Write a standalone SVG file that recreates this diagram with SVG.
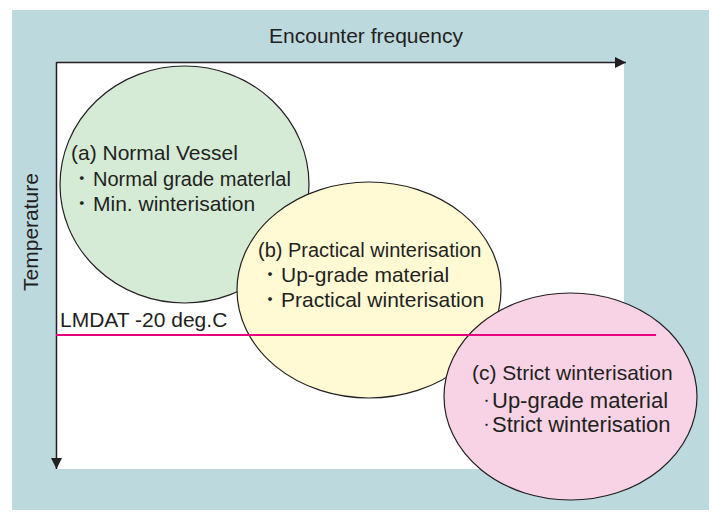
<svg xmlns="http://www.w3.org/2000/svg" width="712" height="513" viewBox="0 0 712 513">
<defs>
<style>
text{font-family:"Liberation Sans",Arial,sans-serif;font-size:21px;fill:#231f20}
text.s20{font-size:20px}
.b{font-family:"Noto Sans CJK JP","Liberation Sans",sans-serif;text-anchor:middle;font-size:18px}
.bs{font-family:"Noto Sans CJK JP","Liberation Sans",sans-serif;text-anchor:end;font-size:11px}
.axis{stroke:#231f20;stroke-width:1.5;fill:none}
.node ellipse{stroke:#231f20;stroke-width:1.2}
</style>
<marker id="ah" viewBox="0 0 10 10" refX="10" refY="5" markerWidth="11" markerHeight="11" markerUnits="userSpaceOnUse" orient="auto">
<path d="M0,0 L10,5 L0,10 Z" fill="#231f20"/>
</marker>
</defs>
<rect x="0" y="0" width="712" height="513" fill="#ffffff"/>
<rect x="12" y="10" width="697" height="500" fill="#bcd9dd"/>
<rect x="57" y="62" width="567" height="407" fill="#ffffff"/>
<text x="366" y="43" text-anchor="middle">Encounter frequency</text>
<text transform="translate(37.5,232) rotate(-90)" text-anchor="middle">Temperature</text>
<g id="node-a" class="node">
<ellipse cx="184.5" cy="184.5" rx="124.5" ry="118.5" fill="#d5ebd6"/>
<text x="71" y="160">(a) Normal Vessel</text>
<text><tspan class="b" x="81.7" y="185">・</tspan><tspan x="93" y="186" font-size="20">Normal grade materlal</tspan></text>
<text><tspan class="b" x="81.7" y="210">・</tspan><tspan x="93" y="211">Min. winterisation</tspan></text>
</g>
<g id="node-b" class="node">
<ellipse cx="369" cy="290" rx="132" ry="108" fill="#fff9d4"/>
<text class="s20" x="258" y="257">(b) Practical winterisation</text>
<text><tspan class="b" x="270" y="281">・</tspan><tspan x="281" y="282">Up-grade material</tspan></text>
<text><tspan class="b" x="270" y="306">・</tspan><tspan x="281" y="307">Practical winterisation</tspan></text>
</g>
<g id="node-c" class="node">
<ellipse cx="570.5" cy="396.5" rx="126.5" ry="103.5" fill="#f8d3e5"/>
<text x="472" y="380">(c) Strict winterisation</text>
<text><tspan class="bs" x="492" y="404.5">・</tspan><tspan x="492" y="408" font-size="22">Up-grade material</tspan></text>
<text><tspan class="bs" x="492" y="428.5">・</tspan><tspan x="492" y="432" font-size="22">Strict winterisation</tspan></text>
</g>
<g id="connectors">
<line class="axis" x1="56.5" y1="62.5" x2="626" y2="62.5" marker-end="url(#ah)"/>
<line class="axis" x1="56.5" y1="62" x2="56.5" y2="469" marker-end="url(#ah)"/>
<line x1="56" y1="335" x2="656" y2="335" stroke="#e4007f" stroke-width="2"/>
</g>
<text x="60" y="327">LMDAT -20 deg.C</text>
</svg>
